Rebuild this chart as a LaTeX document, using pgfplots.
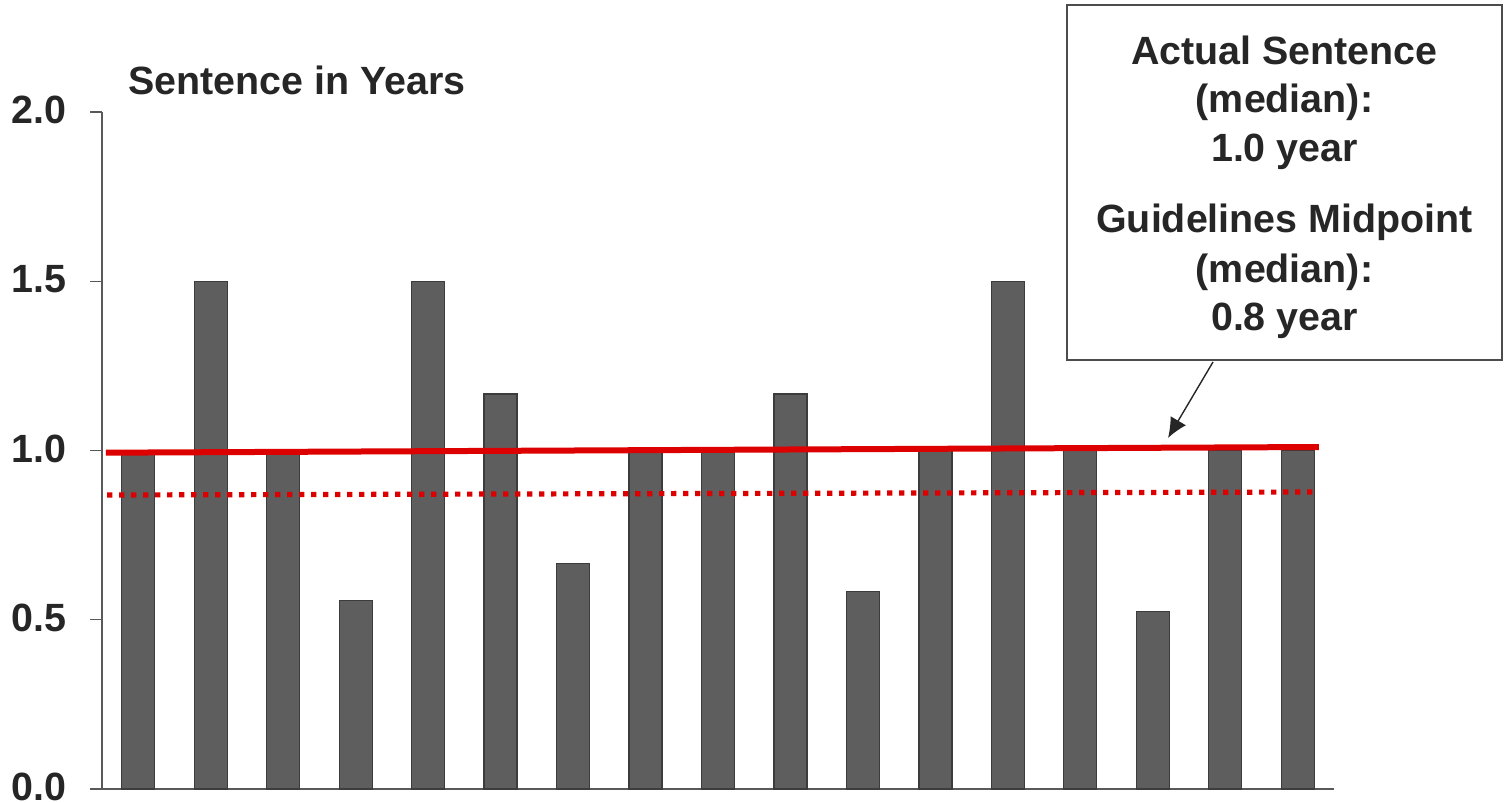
\documentclass[border=0pt]{standalone}
\usepackage{pgfplots}
\pgfplotsset{compat=1.18}
\usepackage{fontspec}
\setmainfont{Liberation Sans}
\usetikzlibrary{arrows.meta}
\definecolor{barfill}{RGB}{94,94,94}
\definecolor{baredge}{RGB}{60,60,60}
\definecolor{myred}{RGB}{221,0,0}
\definecolor{txt}{RGB}{38,38,38}
\begin{document}
\begin{tikzpicture}
\path[use as bounding box] (0,0) rectangle (752.5pt,401.5pt);
\begin{axis}[
  at={(51pt,7pt)}, anchor=south west,
  scale only axis, width=616pt, height=338.5pt,
  xmin=-0.5, xmax=16.5, ymin=0, ymax=2,
  axis x line=bottom, axis y line=left,
  axis line style={-, draw=black!65, line width=0.6pt},
  xtick=\empty,
  ytick={0,0.5,1,1.5,2},
  yticklabel style={/pgf/number format/fixed, /pgf/number format/fixed zerofill, /pgf/number format/precision=1, /pgf/number format/assume math mode=true, font=\fontsize{19.7}{24}\selectfont\bfseries, text=txt, anchor=east, inner sep=0pt, xshift=-11.5pt, yshift=1pt},
  tick align=outside, major tick length=6pt,
  tick style={draw=black!65, line width=0.6pt},
  clip=false,
]
\addplot[ybar, bar width=16.5pt, fill=barfill, draw=baredge, line width=0.6pt] coordinates {
(0,1.0) (1,1.5) (2,1.0) (3,0.556) (4,1.5) (5,1.167) (6,0.667) (7,1.0) (8,1.0)
(9,1.167) (10,0.583) (11,1.0) (12,1.5) (13,1.0) (14,0.525) (15,1.0) (16,1.0)};
\addplot[myred, line width=3pt, mark=none] coordinates {(-0.445,0.9935) (16.29,1.0103)};
\addplot[myred, line width=2.6pt, dash pattern=on 2.6pt off 3.4pt, mark=none] coordinates {(-0.43,0.8685) (16.29,0.8774)};
\end{axis}
\node[anchor=base west, inner sep=0pt, text=txt, font=\fontsize{19.7}{24}\selectfont\bfseries] at (64pt,354pt) {Sentence in Years};
\draw[black!70, line width=0.6pt, fill=white] (533.5pt,399pt) rectangle (751pt,221.5pt);
\begin{scope}[every node/.style={anchor=base, inner sep=0pt, text=txt, font=\fontsize{19.7}{24}\selectfont\bfseries}]
\node at (642.25pt,369pt) {Actual Sentence};
\node at (642.25pt,345pt) {(median):};
\node at (642.25pt,320.5pt) {1.0 year};
\node at (642.25pt,285pt) {Guidelines Midpoint};
\node at (642.25pt,260pt) {(median):};
\node at (642.25pt,236pt) {0.8 year};
\end{scope}
\draw[txt, line width=0.7pt, -{Latex[length=10pt,width=9pt]}] (606.5pt,220.5pt) -- (584pt,182.5pt);
\end{tikzpicture}
\end{document}
